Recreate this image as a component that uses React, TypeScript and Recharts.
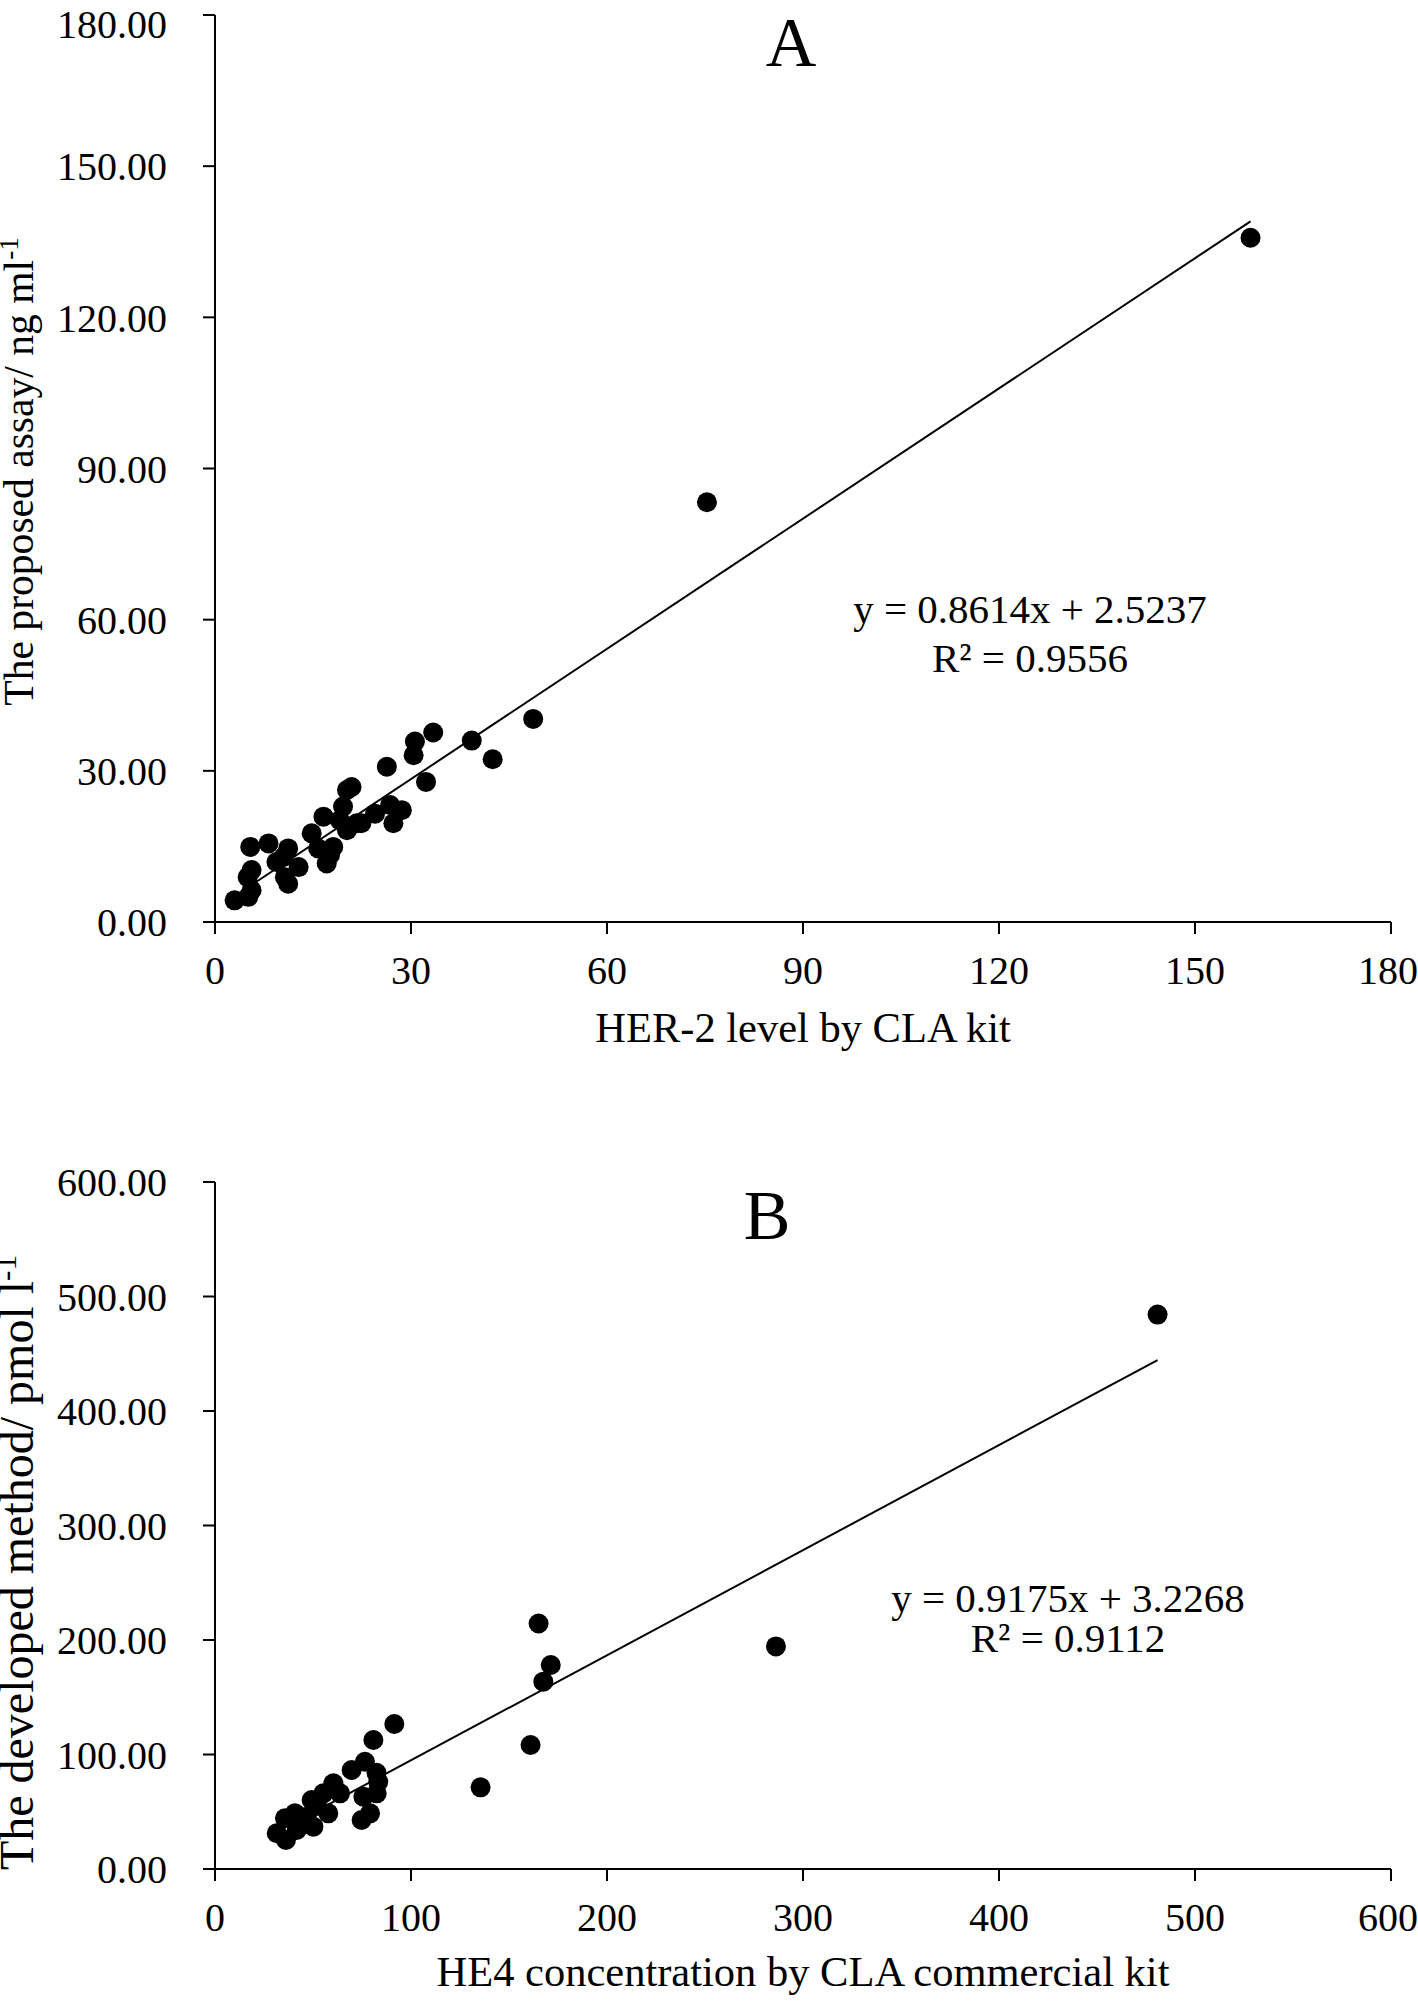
import React from "react";
import { ReferenceLine, Scatter, ScatterChart, XAxis, YAxis } from "recharts";

const FONT = "'Liberation Serif', 'Times New Roman', serif";

// panel A: HER-2
const her2Kit = [3.0, 5.1, 5.6, 5.0, 5.6, 5.4, 8.2, 9.4, 10.7, 11.2, 11.2, 12.8, 10.5, 14.8, 16.6, 15.8, 17.1, 17.6, 18.1, 19.1, 19.6, 20.2, 20.9, 20.2, 21.7, 22.4, 24.5, 26.8, 28.6, 27.3, 26.3, 30.4, 30.6, 33.4, 32.3, 39.3, 42.5, 48.7, 75.3, 158.5];
const her2Assay = [4.3, 5.0, 6.3, 8.9, 10.3, 14.9, 15.6, 11.9, 8.9, 7.6, 14.6, 10.9, 12.9, 17.6, 20.9, 14.6, 11.6, 13.3, 14.9, 20.2, 22.9, 26.2, 26.8, 18.2, 19.6, 19.6, 21.5, 23.2, 22.2, 19.6, 30.8, 33.1, 35.8, 37.6, 27.8, 36.0, 32.3, 40.3, 83.3, 135.8];
const xTicksA = [0, 30, 60, 90, 120, 150, 180];
const yTicksA = [0, 30, 60, 90, 120, 150, 180];
const fitA = { slope: 0.8614, intercept: 2.5237, r2: "0.9556" };

// panel B: HE4
const he4Kit = [31.5, 36.2, 35.7, 41.7, 40.8, 50.2, 49.3, 46.8, 55.3, 57.8, 60.4, 63.8, 69.7, 76.5, 80.8, 91.5, 83.3, 82.4, 82.5, 75.7, 79.1, 74.8, 44.0, 52.0, 135.5, 161, 167.5, 171.3, 165.1, 286.2, 480.9];
const he4Method = [31.2, 25.3, 44.3, 34.1, 48.6, 37.0, 60.3, 45.7, 66.1, 48.6, 74.8, 66.1, 86.5, 93.7, 112.7, 126.6, 76.2, 84.0, 66.1, 63.1, 48.6, 42.8, 40.0, 55.0, 71.3, 108.3, 163.6, 178.2, 214.4, 194.4, 484.2];
const xTicksB = [0, 100, 200, 300, 400, 500, 600];
const yTicksB = [0, 100, 200, 300, 400, 500, 600];
const fitB = { slope: 0.9175, intercept: 3.2268, r2: "0.9112" };

const toPoints = (xs: number[], ys: number[]) => xs.map((x, i) => ({ x, y: ys[i] }));
const fitSegment = (xs: number[], fit: { slope: number; intercept: number }) => {
  const lo = Math.min(...xs);
  const hi = Math.max(...xs);
  return [
    { x: lo, y: fit.slope * lo + fit.intercept },
    { x: hi, y: fit.slope * hi + fit.intercept },
  ];
};

const tickStyle = { fill: "#000", fontSize: 40, fontFamily: FONT };

const Dot = (props: any) => <circle cx={props.cx} cy={props.cy} r={10} fill="#000" />;

type PanelProps = {
  xs: number[];
  ys: number[];
  xTicks: number[];
  yTicks: number[];
  fit: { slope: number; intercept: number; r2: string };
  height: number;
  marginTop: number;
  marginBottom: number;
  title: string;
  titlePos: [number, number];
  eqPos: [number, number, number];
  xLabel: string;
  xLabelDy: number;
  yLabel: string;
  yUnitSup: string;
  yLabelCenter: number;
  yLabelSize: number;
};

const Panel = (p: PanelProps) => {
  const pts = toPoints(p.xs, p.ys);
  const xMax = p.xTicks[p.xTicks.length - 1];
  const yMax = p.yTicks[p.yTicks.length - 1];
  return (
    <ScatterChart
      width={1418}
      height={p.height}
      margin={{ top: p.marginTop, right: 27, bottom: p.marginBottom, left: 0 }}
      style={{ fontFamily: FONT }}
    >
      <XAxis
        type="number"
        dataKey="x"
        domain={[0, xMax]}
        ticks={p.xTicks}
        height={120}
        stroke="#000"
        strokeWidth={2}
        tickSize={12}
        tickMargin={22}
        tick={tickStyle}
        label={{
          content: ({ viewBox }: any) => (
            <text
              x={viewBox.x + viewBox.width / 2}
              y={viewBox.y + p.xLabelDy}
              textAnchor="middle"
              fontSize={42.5}
              fontFamily={FONT}
              fill="#000"
            >
              {p.xLabel}
            </text>
          ),
        }}
      />
      <YAxis
        type="number"
        dataKey="y"
        domain={[0, yMax]}
        ticks={p.yTicks}
        width={215}
        stroke="#000"
        strokeWidth={2}
        tickSize={12}
        tickMargin={36}
        tick={tickStyle}
        tickFormatter={(v: number) => v.toFixed(2)}
        label={{
          content: ({ viewBox }: any) => {
            const cy = viewBox.y + viewBox.height / 2 + p.yLabelCenter;
            return (
              <text
                x={33}
                y={cy}
                transform={`rotate(-90, 33, ${cy})`}
                textAnchor="middle"
                fontSize={p.yLabelSize}
                fontFamily={FONT}
                fill="#000"
              >
                {p.yLabel}
                <tspan dy={-p.yLabelSize * 0.35} fontSize={p.yLabelSize * 0.65}>
                  {p.yUnitSup}
                </tspan>
              </text>
            );
          },
        }}
      />
      <ReferenceLine
        segment={fitSegment(p.xs, p.fit)}
        stroke="#000"
        strokeWidth={2}
        ifOverflow="visible"
      />
      <Scatter data={pts} fill="#000" shape={Dot} isAnimationActive={false} />
      <text x={p.titlePos[0]} y={p.titlePos[1]} textAnchor="middle" fontSize={70} fontFamily={FONT} fill="#000">
        {p.title}
      </text>
      <text x={p.eqPos[0]} y={p.eqPos[1]} textAnchor="middle" fontSize={41} fontFamily={FONT} fill="#000">
        {`y = ${p.fit.slope}x + ${p.fit.intercept}`}
      </text>
      <text x={p.eqPos[0]} y={p.eqPos[2]} textAnchor="middle" fontSize={41} fontFamily={FONT} fill="#000">
        {`R² = ${p.fit.r2}`}
      </text>
    </ScatterChart>
  );
};

export default function App() {
  return (
    <div style={{ position: "absolute", left: 0, top: 0, width: 1418, height: 2002, background: "#fff" }}>
      <div style={{ position: "absolute", left: 0, top: 0 }}>
        <Panel
          xs={her2Kit}
          ys={her2Assay}
          xTicks={xTicksA}
          yTicks={yTicksA}
          fit={fitA}
          height={1100}
          marginTop={15}
          marginBottom={58}
          title="A"
          titlePos={[791, 66]}
          eqPos={[1030, 623, 672]}
          xLabel="HER-2 level by CLA kit"
          xLabelDy={120}
          yLabel="The proposed assay/ ng ml"
          yUnitSup="-1"
          yLabelCenter={3}
          yLabelSize={41.6}
        />
      </div>
      <div style={{ position: "absolute", left: 0, top: 1100 }}>
        <Panel
          xs={he4Kit}
          ys={he4Method}
          xTicks={xTicksB}
          yTicks={yTicksB}
          fit={fitB}
          height={902}
          marginTop={82}
          marginBottom={13}
          title="B"
          titlePos={[767, 139]}
          eqPos={[1068, 512, 552]}
          xLabel="HE4 concentration by CLA commercial kit"
          xLabelDy={117}
          yLabel="The developed method/ pmol l"
          yUnitSup="-1"
          yLabelCenter={37}
          yLabelSize={48}
        />
      </div>
    </div>
  );
}
